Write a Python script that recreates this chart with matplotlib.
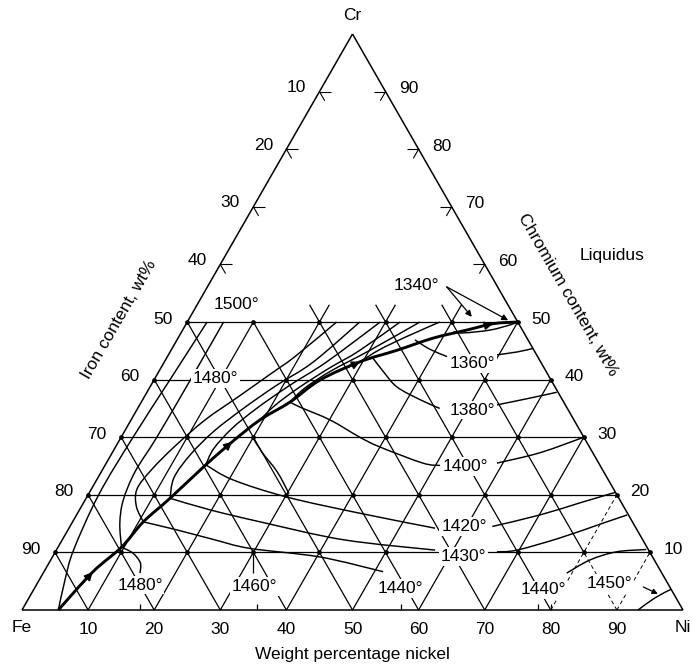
import numpy as np
import matplotlib.pyplot as plt
from matplotlib.path import Path
from matplotlib.patches import PathPatch

plt.rcParams['font.family'] = ['Liberation Sans', 'DejaVu Sans']

H = np.sqrt(3) / 2

# edge tick labels (wt%)
fe_ticks_top = [10, 20, 30, 40]
fe_ticks_low = [50, 60, 70, 80, 90]
cr_ticks = [90, 80, 70, 60, 50, 40, 30, 20, 10]
ni_ticks = [10, 20, 30, 40, 50, 60, 70, 80, 90]
grid_levels = [10, 20, 30, 40, 50]

# liquidus valley, (wt% Ni, wt% Cr)
valley_ni = [5.5, 7.4, 9.6, 10.7, 12.7, 15.2, 17.2, 19.5, 22.5, 25.1, 29.6, 34.2, 38.6, 43.0, 46.4, 50.0]
valley_cr = [0.0, 6.6, 10.9, 15.3, 19.4, 25.2, 29.2, 33.0, 36.1, 39.9, 43.1, 45.1, 47.2, 48.6, 49.7, 50.0]
valley_arrows = [1, 6, 10, 14]

# isotherms, (wt% Ni, wt% Cr)
iso_fe_edge = [(5.5, 0), (3.9, 5.2), (2.6, 10.4), (1.6, 20), (1.8, 30), (2.4, 40), (3.0, 50)]
iso_a = [(9.6, 10.9), (7.3, 15), (5.8, 19), (5.1, 24), (5.4, 30), (5.5, 40), (5.5, 50)]
iso_f1 = [(10.7, 15.3), (8.3, 18), (6.9, 21), (7.4, 24.3), (8.9, 28.4), (11.2, 33),
          (14.2, 37), (17.2, 41.1), (19.3, 44), (22.6, 50)]
iso_b3 = [(12.7, 19.4), (11.5, 23), (12, 27), (13.5, 31), (16, 35), (19, 39), (22.5, 43), (26.1, 50)]
iso_b4 = [(15.2, 25.2), (15, 28), (16, 31.5), (18, 35), (21, 39), (24.5, 43), (29.2, 50)]
iso_b5 = [(19.5, 33), (20.5, 35.5), (22.5, 38.5), (25.5, 42), (28.5, 45), (32.2, 50)]
iso_b6 = [(22.5, 36.1), (23.5, 38.5), (26, 41.5), (30, 45), (35.2, 50)]
iso_b7 = [(29.6, 43.1), (31.5, 45.2), (34.5, 47.5), (38.2, 50)]
iso_lens = [(41.1, 48.3), (42.7, 48.1), (46.5, 48.6), (49.1, 49.5), (50, 50)]

iso_1480 = [(9.6, 10.9), (11.8, 9.9), (13.8, 8.2), (14.65, 6.4)]
iso_1440_l = [(10.7, 15.3), (16.5, 13.9), (23, 12.2), (29.1, 10.7), (40.5, 9.2), (51.3, 6.65)]
iso_1430_l = [(12.7, 19.4), (19.7, 17.4), (28.4, 15.3), (42.5, 12.2), (57.3, 10.4)]
iso_1430_r = [(66.8, 10.1), (69.7, 10.4), (75.1, 12.5), (80, 14.9), (83.3, 16.5)]
iso_1420_l = [(15.2, 25.2), (20.6, 22.6), (30.3, 19.6), (42.7, 16.8), (55.4, 14.2)]
iso_1420_r = [(63.9, 14.5), (70.1, 16.5), (75.1, 18.6), (79.5, 20.4)]
iso_c4 = [(19.9, 30), (22.6, 27.4), (26.6, 24), (30.3, 20.2)]
iso_1400_l = [(22.5, 36.1), (24.5, 35.2), (30.1, 33), (36.1, 30), (40, 28.3), (47.9, 25.5), (50.7, 25.1)]
iso_1400_r = [(59.1, 25.5), (64.7, 27.3), (70, 30)]
iso_1380_l = [(31.2, 43.75), (34.2, 41.2), (37.4, 38.7), (42, 36.5), (45.7, 35)]
iso_1380_r = [(54, 35.6), (58.5, 36.8), (62, 37.8)]
iso_1360_l = [(36, 46.9), (39, 45.3), (42.3, 44)]
iso_1360_r = [(49.7, 44.3), (52.5, 44.8), (54.6, 45.4)]
iso_1440_r = [(79.2, 6.4), (81.6, 8.7), (84.9, 10.1), (89.2, 10.5)]
iso_1450 = [(93.2, 0.0), (94.7, 2.1), (96.4, 3.6)]

base_hits = [17.9, 35.5, 57.4, 78.0, 80.0]

iso_labels = [('1500°', 6.0, 53.0), ('1480°', 9.2, 40.2), ('1340°', 31.5, 56.4),
              ('1360°', 46.8, 42.8), ('1380°', 50.8, 34.7), ('1400°', 54.6, 24.9),
              ('1420°', 59.6, 14.5), ('1430°', 62.2, 9.25), ('1480°', 15.7, 4.3),
              ('1460°', 33.2, 4.05), ('1440°', 55.3, 3.77), ('1440°', 77.1, 3.5),
              ('1450°', 86.5, 4.6)]


def tp(ni, cr):
    ni = np.asarray(ni, float)
    cr = np.asarray(cr, float)
    return ni + cr / 2, cr * H


fig = plt.figure(figsize=(6.93, 6.66), dpi=100)
ax = fig.add_axes([0, 0, 1, 1])
sx = 6.61
sy = 5.76 / H
ax.set_xlim(-22 / sx, (693 - 22) / sx)
ax.set_ylim(-(666 - 610) / sy, 610 / sy)
ax.axis('off')


def seg(p, q, lw=0.9, ls='-'):
    x, y = tp([p[0], q[0]], [p[1], q[1]])
    ax.plot(x, y, color='k', lw=lw, ls=ls, solid_capstyle='butt')


def smooth_path(x, y):
    # cubic Bezier pieces through the read points (Catmull-Rom handles)
    verts = [(x[0], y[0])]
    codes = [Path.MOVETO]
    n = len(x)
    for i in range(n - 1):
        x0, y0 = (x[i - 1], y[i - 1]) if i > 0 else (x[i], y[i])
        x3, y3 = (x[i + 2], y[i + 2]) if i + 2 < n else (x[i + 1], y[i + 1])
        c1 = (x[i] + (x[i + 1] - x0) / 6, y[i] + (y[i + 1] - y0) / 6)
        c2 = (x[i + 1] - (x3 - x[i]) / 6, y[i + 1] - (y3 - y[i]) / 6)
        verts += [c1, c2, (x[i + 1], y[i + 1])]
        codes += [Path.CURVE4] * 3
    return Path(verts, codes)


def curve(pts, lw=1.05, zorder=3):
    ni, cr = zip(*pts)
    x, y = tp(ni, cr)
    ax.add_patch(PathPatch(smooth_path(x, y), fc='none', ec='k', lw=lw,
                           joinstyle='round', zorder=zorder))


# outline
seg((0, 0), (100, 0), lw=1.1)
seg((100, 0), (0, 100), lw=1.1)
seg((0, 100), (0, 0), lw=1.1)

# lower-half grid
for c in grid_levels:
    seg((0, c), (100 - c, c))
for k in ni_ticks:
    top = min(50, 100 - k)
    if k in (20, 30, 40):
        top = 53
    if k in (80, 90):
        seg((k, 0), (k, top), lw=0.7, ls=(0, (4, 3)))
    else:
        seg((k, 0), (k, top))
for k in ni_ticks:  # Fe = k lines
    top = min(50, 100 - k)
    if k in (10, 20, 30):
        top = 53
    if k == 10:
        seg((90, 0), (80, 10), lw=0.7, ls=(0, (4, 3)))
        seg((80, 10), (100 - k - top, top))
    else:
        seg((100 - k, 0), (100 - k - top, top))

# lattice dots
for c in grid_levels:
    for n in range(0, 101 - c, 10):
        x, y = tp(n, c)
        ax.plot(x, y, 'o', color='k', ms=2.4)

# upper-half edge stubs
for c in [60, 70, 80, 90]:
    seg((0, c), (1.8, c), lw=0.8)
    seg((0, c), (1.6, c - 1.6), lw=0.8)
    seg((100 - c, c), (100 - c - 1.8, c), lw=0.8)
    seg((100 - c, c), (100 - c, c - 1.6), lw=0.8)

# isotherms
for pts in [iso_fe_edge, iso_a, iso_f1, iso_b3, iso_b4, iso_b5, iso_b6, iso_b7, iso_lens,
            iso_1480, iso_1440_l, iso_1430_l, iso_1430_r, iso_1420_l, iso_1420_r, iso_c4,
            iso_1400_l, iso_1400_r, iso_1380_l, iso_1380_r, iso_1360_l, iso_1360_r,
            iso_1440_r, iso_1450]:
    curve(pts)

for n in base_hits:
    seg((n, 0), (n - 0.5, 1.0), lw=0.9)
seg((29.8, 10.4), (31.8, 6.4), lw=0.9)

# liquidus valley
vx, vy = tp(valley_ni, valley_cr)
curve(list(zip(valley_ni, valley_cr)), lw=2.1, zorder=4)
for i in valley_arrows:
    ax.annotate('', xy=(vx[i], vy[i]),
                xytext=(vx[i] - 0.35 * (vx[i] - vx[i - 1]), vy[i] - 0.35 * (vy[i] - vy[i - 1])),
                arrowprops=dict(arrowstyle='-|>', color='k', lw=1.2, mutation_scale=12,
                                shrinkA=0, shrinkB=0), zorder=5)

# 1340 leaders and 1450 arrow
for tgt in [(48.4, 50.3), (42.6, 50.9)]:
    ax.annotate('', xy=tp(*tgt), xytext=tp(36.2, 56.1),
                arrowprops=dict(arrowstyle='-|>', color='k', lw=0.9, mutation_scale=9,
                                shrinkA=0, shrinkB=0))
ax.annotate('', xy=tp(94.8, 2.8), xytext=tp(92.0, 4.0),
            arrowprops=dict(arrowstyle='-|>', color='k', lw=0.9, mutation_scale=8,
                            shrinkA=0, shrinkB=0))

# labels
fs = 12.5
box = dict(boxstyle='square,pad=0.1', fc='white', ec='none')
for txt, n, c in iso_labels:
    x, y = tp(n, c)
    ax.text(x, y, txt, fontsize=fs, ha='center', va='center', bbox=box, zorder=6)

for v in fe_ticks_top + fe_ticks_low:
    off = (-23, 4) if v < 50 else (-24, 3)
    ax.annotate(str(v), xy=tp(0, 100 - v), xytext=off, textcoords='offset pixels',
                ha='center', va='center', fontsize=fs)
for c in cr_ticks:
    ax.annotate(str(c), xy=tp(100 - c, c), xytext=(23, 3), textcoords='offset pixels',
                ha='center', va='center', fontsize=fs)
for n in ni_ticks:
    ax.annotate(str(n), xy=tp(n, 0), xytext=(0, -20), textcoords='offset pixels',
                ha='center', va='center', fontsize=fs)

ax.annotate('Cr', xy=tp(0, 100), xytext=(0, 18), textcoords='offset pixels',
            ha='center', va='center', fontsize=fs)
ax.annotate('Fe', xy=tp(0, 0), xytext=(0, -18), textcoords='offset pixels',
            ha='center', va='center', fontsize=fs)
ax.annotate('Ni', xy=tp(100, 0), xytext=(0, -18), textcoords='offset pixels',
            ha='center', va='center', fontsize=fs)
ax.annotate('Weight percentage nickel', xy=tp(50, 0), xytext=(0, -44),
            textcoords='offset pixels', ha='center', va='center', fontsize=fs)
ax.annotate('Iron content, wt%', xy=tp(0, 50), xytext=(-68, 2), textcoords='offset pixels',
            ha='center', va='center', fontsize=fs, rotation=60)
ax.annotate('Chromium content, wt%', xy=tp(50, 50), xytext=(50, 27), textcoords='offset pixels',
            ha='center', va='center', fontsize=fs, rotation=-60)
ax.text(*tp(58.5, 61.6), 'Liquidus', fontsize=fs, ha='center', va='center')

fig.savefig('out.png', dpi=100)
